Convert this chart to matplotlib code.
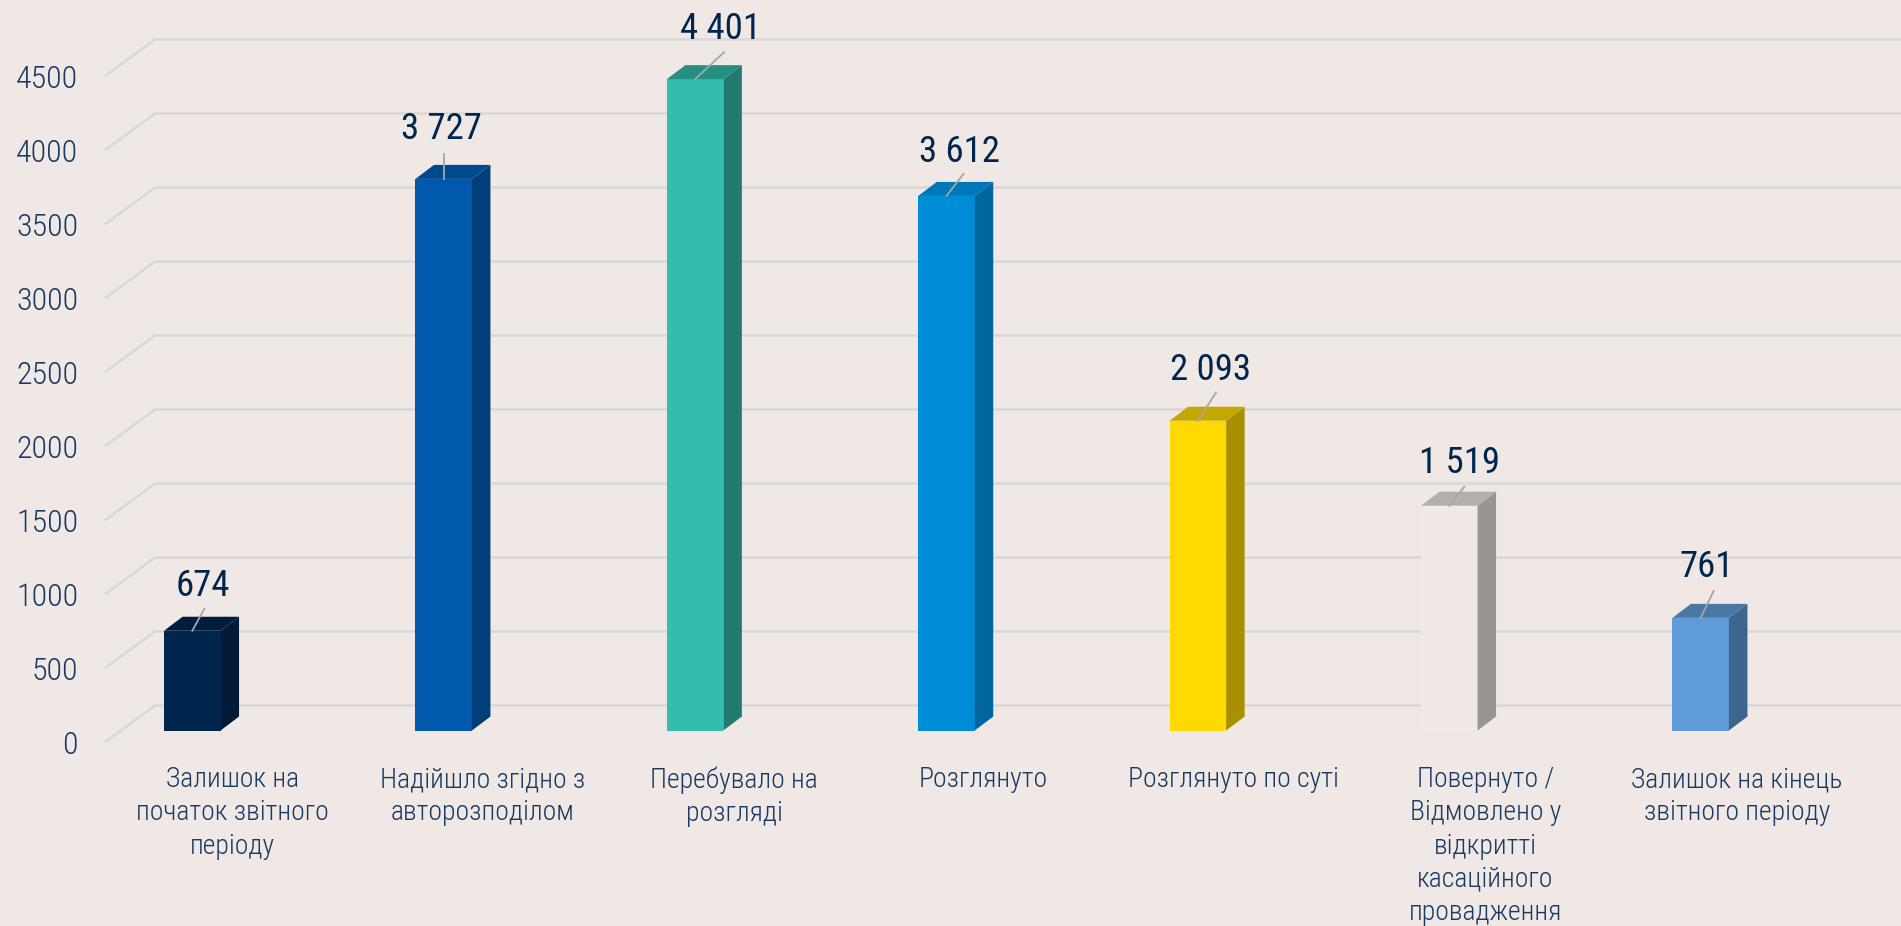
import matplotlib
matplotlib.use("Agg")
import matplotlib.pyplot as plt
from matplotlib.patches import Polygon

W, H = 1901, 926
categories = ["Залишок на\nпочаток звітного\nперіоду", "Надійшло згідно з\nавторозподілом",
              "Перебувало на\nрозгляді", "Розглянуто", "Розглянуто по суті",
              "Повернуто /\nВідмовлено у\nвідкритті\nкасаційного\nпровадження",
              "Залишок на кінець\nзвітного періоду"]
values = [674, 3727, 4401, 3612, 2093, 1519, 761]
value_labels = ["674", "3 727", "4 401", "3 612", "2 093", "1 519", "761"]
y_ticks = [0, 500, 1000, 1500, 2000, 2500, 3000, 3500, 4000, 4500]

front_colors = ["#00264D", "#0059AC", "#33BDAE", "#008DD8", "#FFD900", "#F0E9E6", "#5E9BD8"]
side_colors = ["#001A38", "#003F78", "#237A6F", "#00679E", "#A89000", "#9A9591", "#3E658C"]
top_colors = ["#001D3D", "#00498F", "#258F82", "#0077B8", "#C4A800", "#B5AFAB", "#4A78A4"]

# leader line end and label centre, relative to the bar's top front centre (px right, px up)
leader_dx = [12, 0, 29, 17, 18, 15, 13]
leader_dy = [22, 25, 27, 22, 28, 19, 27]
label_dx = [11, -2, 25, 13, 13, 10, 6]
label_dy = [45, 50, 50, 44, 51, 43, 51]
# category label centre, px right of the bar's centre
cat_dx = [40, 39, 39, 37, 36, 36, 36]

BG = "#EFE8E5"
GRID = "#DBD8D4"
TEXT = "#173A63"
VALUE = "#00264D"
FONT = ["Roboto Condensed", "Liberation Sans Narrow", "Roboto"]

px_per_unit = 74 / 500
px_per_cat = 251.4
x0, y0 = 192.3, 730.5

fig = plt.figure(figsize=(W / 100, H / 100), dpi=100, facecolor=BG)
ax = fig.add_axes([0, 0, 1, 1])
ax.set_xlim(-x0 / px_per_cat, (W - x0) / px_per_cat)
ax.set_ylim(-(H - y0) / px_per_unit, y0 / px_per_unit)
ax.axis("off")


def dx(p):
    return p / px_per_cat


def dy(p):
    return p / px_per_unit


bar_w = dx(56.5)
dep_x, dep_y = dx(18.5), dy(14)

# gridlines: stub on the floor, then the back wall
for t in y_ticks:
    front_y = t - dy(11)
    ax.plot([dx(106 - x0), dx(155 - x0), dx(W - x0)],
            [front_y, front_y + dy(36), front_y + dy(36)], color=GRID, lw=1.8, zorder=1)
    ax.text(dx(78 - x0), front_y - dy(1), f"{t}", ha="right", va="center_baseline", fontsize=23, color=TEXT,
            family=FONT, fontweight="light")

for i, v in enumerate(values):
    l, r = i - bar_w / 2, i + bar_w / 2
    ax.add_patch(Polygon([(l, 0), (r, 0), (r, v), (l, v)], closed=True, fc=front_colors[i], ec="none", zorder=3))
    ax.add_patch(Polygon([(r, 0), (r + dep_x, dep_y), (r + dep_x, v + dep_y), (r, v)], closed=True,
                         fc=side_colors[i], ec="none", zorder=3))
    ax.add_patch(Polygon([(l, v), (r, v), (r + dep_x, v + dep_y), (l + dep_x, v + dep_y)], closed=True,
                         fc=top_colors[i], ec="none", zorder=3))
    ax.plot([i, i + dx(leader_dx[i])], [v, v + dy(leader_dy[i])], color="#A9A6A3", lw=1.3, zorder=4)
    ax.text(i + dx(label_dx[i]), v + dy(label_dy[i]), value_labels[i], ha="center", va="center",
            fontsize=26.5, color=VALUE, family=FONT)
    ax.text(i + dx(cat_dx[i]), dy(y0 - 766), categories[i], ha="center", va="top",
            fontsize=20, color=TEXT, family=FONT, fontweight="light", linespacing=1.3)

fig.savefig("out.png", dpi=100, facecolor=BG)
